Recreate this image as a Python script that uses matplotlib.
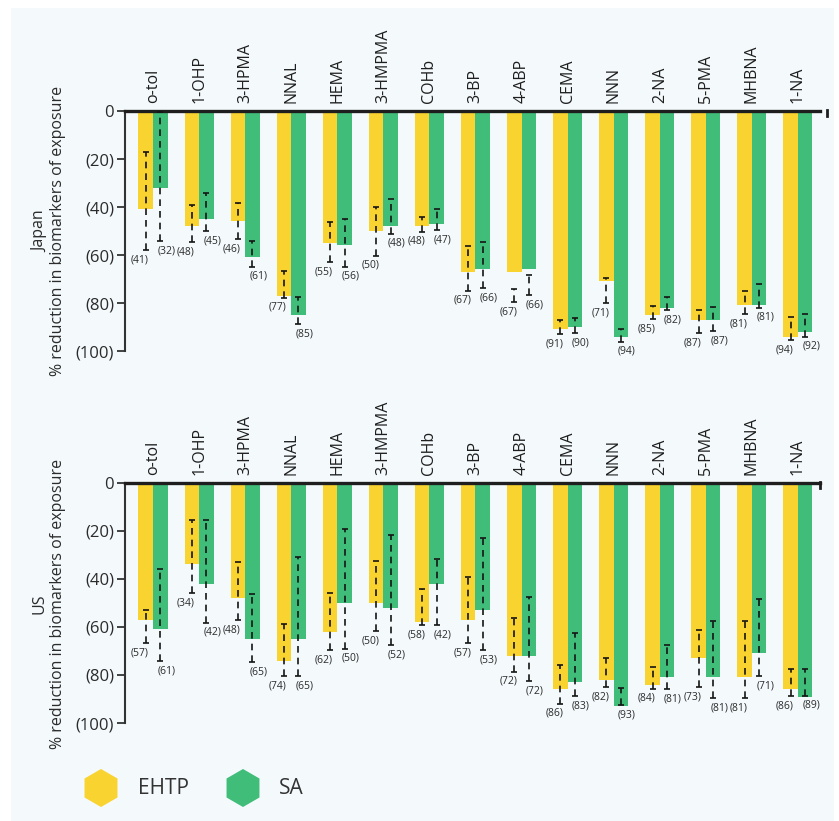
import matplotlib
matplotlib.use("Agg")
import matplotlib.pyplot as plt
from matplotlib.patches import Rectangle, RegularPolygon
from matplotlib.lines import Line2D
import numpy as np

plt.rcParams['font.family'] = ['Open Sans', 'DejaVu Sans']

biomarkers = ["o-tol", "1-OHP", "3-HPMA", "NNAL", "HEMA", "3-HMPMA", "COHb", "3-BP",
              "4-ABP", "CEMA", "NNN", "2-NA", "5-PMA", "MHBNA", "1-NA"]

# % reduction (shown as negative bars)
japan_ehtp = [41, 48, 46, 77, 55, 50, 48, 67, 67, 91, 71, 85, 87, 81, 94]
japan_sa = [32, 45, 61, 85, 56, 48, 47, 66, 66, 90, 94, 82, 87, 81, 92]
us_ehtp = [57, 34, 48, 74, 62, 50, 58, 57, 72, 86, 82, 84, 73, 81, 86]
us_sa = [61, 42, 65, 65, 50, 52, 42, 53, 72, 83, 93, 81, 81, 71, 89]

# confidence interval bounds (% reduction)
japan_ehtp_lo = [17.0, 39.2, 38.2, 66.7, 46.1, 40.1, 44.0, 56.1, 74.2, 87.1, 69.4, 81.1, 82.9, 75.0, 85.7]
japan_ehtp_hi = [57.9, 54.7, 53.5, 77.8, 63.1, 60.3, 50.3, 74.9, 79.7, 92.9, 80.1, 86.8, 92.6, 84.7, 95.4]
japan_sa_lo = [0.3, 34.3, 54.0, 77.6, 45.1, 36.5, 40.8, 54.4, 68.3, 86.4, 90.7, 77.6, 81.8, 72.2, 84.7]
japan_sa_hi = [54.2, 50.0, 64.9, 88.8, 64.9, 51.1, 49.6, 73.8, 76.7, 92.6, 96.1, 82.9, 91.7, 81.9, 94.0]
us_ehtp_lo = [53.0, 15.5, 32.9, 58.6, 46.1, 32.5, 44.4, 39.2, 56.2, 75.7, 72.9, 76.8, 61.4, 57.6, 77.5]
us_ehtp_hi = [66.9, 46.1, 57.2, 80.5, 69.7, 61.8, 59.3, 66.7, 78.7, 91.9, 85.0, 85.7, 85.0, 89.6, 88.9]
us_sa_lo = [36.1, 15.5, 46.2, 30.8, 19.4, 21.8, 31.8, 23.2, 47.5, 62.4, 85.4, 67.4, 57.6, 48.5, 77.5]
us_sa_hi = [74.2, 58.3, 74.6, 80.5, 69.0, 67.6, 59.3, 69.7, 82.5, 88.9, 92.6, 86.0, 89.6, 80.5, 88.6]

series_names = ["EHTP", "SA"]
regions = ["Japan", "US"]
y_ticks = [0, -20, -40, -60, -80, -100]
y_ticklabels = ["0", "(20)", "(40)", "(60)", "(80)", "(100)"]

YELLOW = "#F9D32F"
GREEN = "#41BD7A"
TXT = "#2b2b2b"

W, H = 839, 821
fig = plt.figure(figsize=(W / 100, H / 100), dpi=100, facecolor="white")

# light panel background
bg = fig.add_axes([0, 0, 1, 1], zorder=-10)
bg.set_xlim(0, W)
bg.set_ylim(H, 0)
bg.axis("off")
bg.add_patch(Rectangle((11, 8), 823, 813, facecolor="#F4F9FC", edgecolor="none"))

x = np.arange(len(biomarkers))
bw = 0.315
xlim = (-0.608, 14.478)


def panel(ax, region, ehtp, sa, e_lo, e_hi, s_lo, s_hi, mark_x):
    ax.set_facecolor("none")
    ax.bar(x - bw / 2, -np.array(ehtp), width=bw, color=YELLOW, zorder=2)
    ax.bar(x + bw / 2, -np.array(sa), width=bw, color=GREEN, zorder=2)
    for xs, lo, hi, vals, dx in ((x - bw / 2, e_lo, e_hi, ehtp, -6),
                                 (x + bw / 2, s_lo, s_hi, sa, 6)):
        lo = np.array(lo)
        hi = np.array(hi)
        mid = (lo + hi) / 2
        eb = ax.errorbar(xs, -mid, yerr=(hi - lo) / 2, fmt="none", ecolor="#151515",
                         elinewidth=1.2, capsize=2.0, capthick=1.2, zorder=3)
        eb[2][0].set_linestyle((0, (4, 3)))
        for xi, h, v in zip(xs, hi, vals):
            ax.annotate(f"({v})", (xi, -h), xytext=(dx * 0.72, -3), textcoords="offset points",
                        ha="center", va="top", fontsize=7.5, color=TXT, annotation_clip=False)
    ax.set_xlim(*xlim)
    ax.set_ylim(-100, 0)
    ax.set_yticks(y_ticks)
    ax.set_yticklabels(y_ticklabels, fontsize=12, color=TXT)
    ax.tick_params(axis="y", length=6, width=1.3, color="#333333", pad=2)
    ax.set_xticks([])
    for s in ("right", "bottom"):
        ax.spines[s].set_visible(False)
    ax.spines["top"].set_linewidth(2.4)
    ax.spines["top"].set_color("#1e1e1e")
    ax.spines["left"].set_linewidth(1.5)
    ax.spines["left"].set_color("#333333")
    for xi, name in zip(x, biomarkers):
        ax.annotate(name, (xi, 0), xytext=(0, 5.8), textcoords="offset points",
                    rotation=90, ha="center", va="bottom", fontsize=11.5, color="#1e1e1e",
                    annotation_clip=False)
    ax.add_line(Line2D([mark_x, mark_x], [0.4, -2.2], color="#1e1e1e", lw=2,
                       clip_on=False))


ax1 = fig.add_axes([125 / W, 1 - 351 / H, 695 / W, 240 / H])
panel(ax1, regions[0], japan_ehtp, japan_sa, japan_ehtp_lo, japan_ehtp_hi,
      japan_sa_lo, japan_sa_hi, 14.63)
ax2 = fig.add_axes([125 / W, 1 - 723 / H, 695 / W, 240.3 / H])
panel(ax2, regions[1], us_ehtp, us_sa, us_ehtp_lo, us_ehtp_hi,
      us_sa_lo, us_sa_hi, 14.47)

for yc, region in ((231, regions[0]), (604, regions[1])):
    fig.text(49 / W, 1 - yc / H, f"{region}\n% reduction in biomarkers of exposure",
             rotation=90, ha="center", va="center", fontsize=11.5, color=TXT,
             linespacing=1.2)

# legend with hexagon markers
for cx, tx, col, name in ((101, 138, YELLOW, series_names[0]),
                          (243, 279, GREEN, series_names[1])):
    bg.add_patch(RegularPolygon((cx, 788), numVertices=6, radius=19, orientation=0,
                                facecolor=col, edgecolor="none"))
    bg.text(tx, 789, name, ha="left", va="center", fontsize=15, color="#333333")

fig.savefig("out.png", dpi=100, facecolor="white")
